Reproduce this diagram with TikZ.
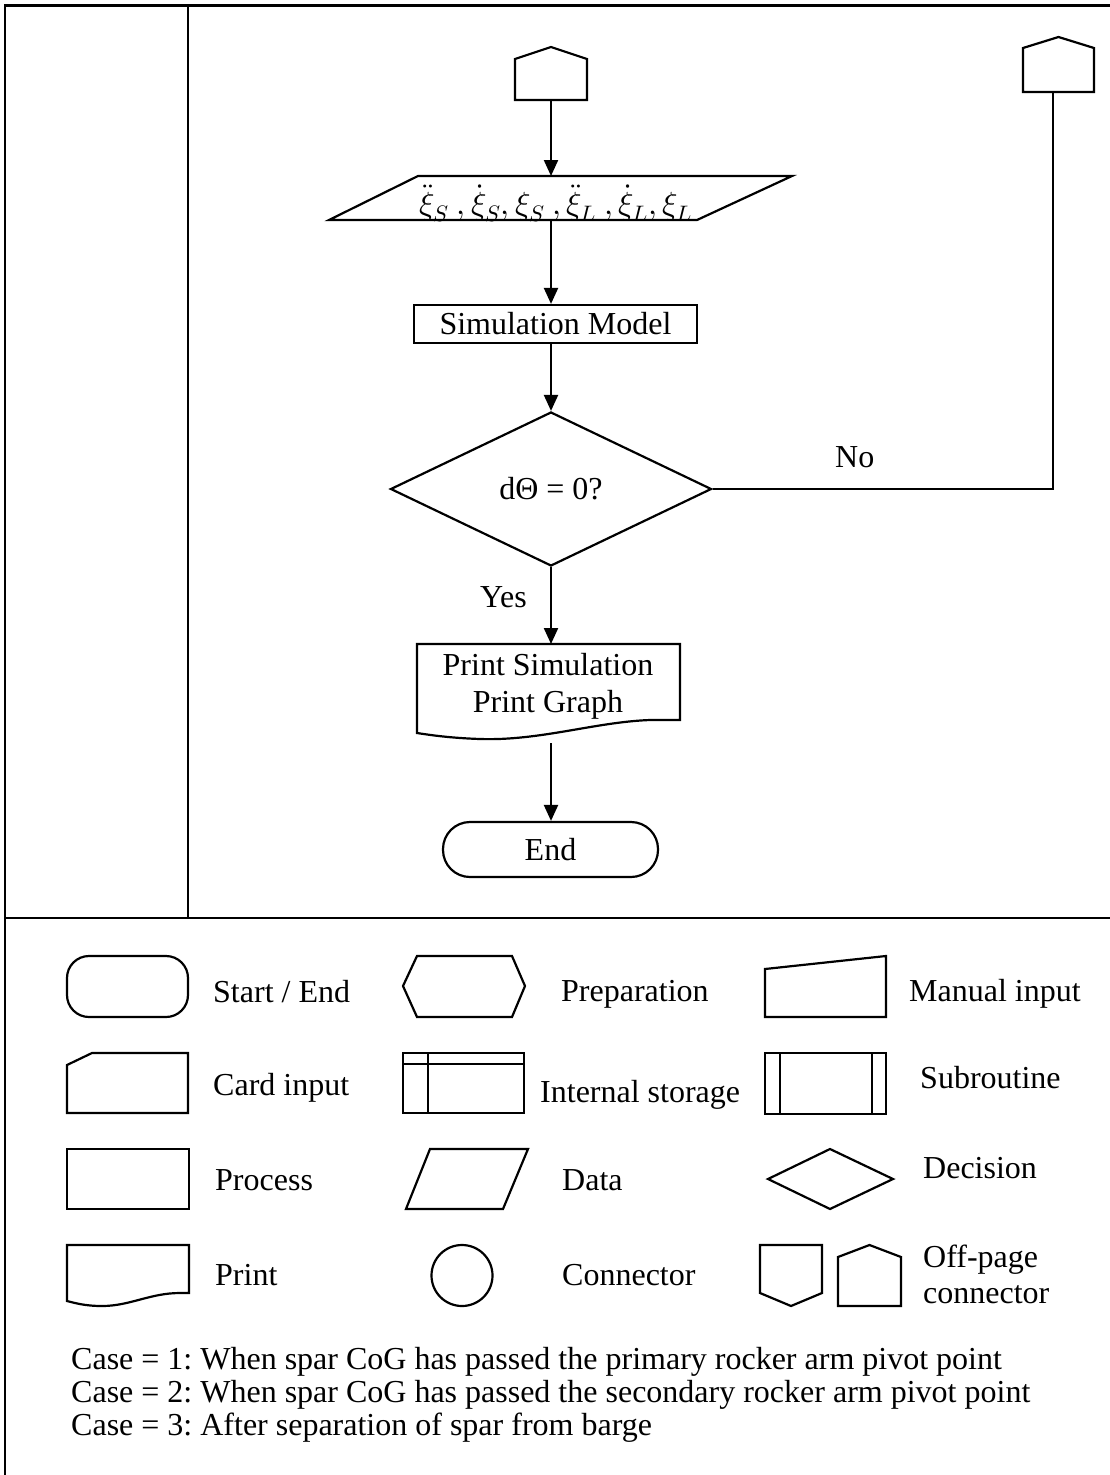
\documentclass[tikz,border=0pt]{standalone}
\usepackage{fontspec}
\usepackage{unicode-math}
\setmainfont{Liberation Serif}
\setmathfont{Latin Modern Math}
\usetikzlibrary{arrows.meta,shapes.geometric}
\frenchspacing
\tikzset{
  fs/.style={font=\fontsize{32}{38}\selectfont\frenchspacing},
  shp/.style={draw, line width=2.2pt, line join=miter},
  lbl/.style={fs, inner sep=0pt, anchor=base west},
  ctr/.style={fs, inner sep=0pt, anchor=base},
  flow/.style={line width=2.2pt, -{Triangle[length=16pt,width=14pt]}},
  conn/.style={line width=2.2pt},
  frame/.style={line width=2.5pt},
}
\begin{document}
\begin{tikzpicture}[x=1pt,y=-1pt]
\useasboundingbox (0,0) rectangle (1110,1475);

% frame
\draw[frame] (4,5.5) -- (1110,5.5);
\draw[frame] (5,4.5) -- (5,1475);
\draw[frame] (5,918) -- (1110,918);
\draw[frame] (188,5.5) -- (188,918);

% off-page connectors (top)
\draw[shp] (515,100) -- (515,59) -- (551,47) -- (587,59) -- (587,100) -- cycle;
\coordinate (off1) at (551,100);
\draw[shp] (1023,92) -- (1023,48) -- (1058.5,37) -- (1094,48) -- (1094,92) -- cycle;
\coordinate (off2) at (1053,92);

% data (parallelogram)
\draw[shp] (329,220) -- (418,176) -- (792,176) -- (697,220) -- cycle;
\node[ctr] (data) at (556,214) {$\ddot{\xi}_S\ ,\dot{\xi}_S,\xi_S\ ,\ddot{\xi}_L\ ,\dot{\xi}_L,\xi_L$};
\coordinate (dataT) at (551,176);
\coordinate (dataB) at (551,220);

% process
\node[shp, fs, minimum width=283pt, minimum height=38pt, inner sep=0pt] (sim) at (555.5,324) {Simulation Model};

% decision
\node[shp, fs, diamond, minimum width=321pt, minimum height=154pt, aspect=2.08, inner sep=0pt] (dec) at (551,489) {dΘ = 0?};

% print
\draw[shp] (417,644) -- (680,644) -- (680,720) -- (650,720)
  .. controls (595,722) and (540,741) .. (480,739)
  .. controls (450,738) and (430,735) .. (417,733) -- cycle;
\node[ctr] (prt1) at (548,675) {Print Simulation};
\node[ctr] (prt2) at (548,712) {Print Graph};
\coordinate (prtT) at (551,644);
\coordinate (prtout) at (551,743);

% end
\node[shp, fs, rounded corners=27pt, minimum width=215pt, minimum height=55pt, inner sep=0pt] (end) at (550.5,849.5) {End};

% connectors
\draw[flow] (off1) -- (dataT);
\draw[flow] (dataB) -- (sim.north -| dataB);
\draw[flow] (sim.south -| dec.north) -- (dec.north);
\draw[flow] (dec.south) -- (prtT);
\draw[flow] (prtout) -- (prtout |- end.north);
\coordinate (nocorner) at (1053,489);
\draw[conn] (dec.east) -- (nocorner) -- (off2);
\node[lbl] (no) at (835,467) {No};
\node[lbl] (yes) at (480,607) {Yes};

% ---- legend ----
\draw[shp, rounded corners=22pt] (67,956) rectangle (188,1017);
\node[lbl] (l1) at (213,1002) {Start / End};
\draw[shp] (403,986) -- (417,956) -- (512,956) -- (525,986) -- (512,1017) -- (417,1017) -- cycle;
\node[lbl] (l2) at (561,1001) {Preparation};
\draw[shp] (765,969) -- (886,956) -- (886,1017) -- (765,1017) -- cycle;
\node[lbl] (l3) at (909,1001) {Manual input};

\draw[shp] (67,1065) -- (92,1053) -- (188,1053) -- (188,1113) -- (67,1113) -- cycle;
\node[lbl] (l4) at (213,1095) {Card input};
\draw[shp] (403,1053) rectangle (524,1113);
\draw[shp] (403,1064) -- (524,1064);
\draw[shp] (428,1053) -- (428,1113);
\node[lbl] (l5) at (540,1102) {Internal storage};
\draw[shp] (765,1053) rectangle (886,1114);
\draw[shp] (780,1053) -- (780,1114);
\draw[shp] (872,1053) -- (872,1114);
\node[lbl] (l6) at (920,1088) {Subroutine};

\draw[shp] (67,1149) rectangle (189,1209);
\node[lbl] (l7) at (215,1190) {Process};
\draw[shp] (406,1209) -- (430,1149) -- (528,1149) -- (503,1209) -- cycle;
\node[lbl] (l8) at (562,1190) {Data};
\draw[shp] (768,1179) -- (830,1149) -- (893,1179) -- (830,1209) -- cycle;
\node[lbl] (l9) at (923,1178) {Decision};

\draw[shp] (67,1245) -- (189,1245) -- (189,1293) -- (180,1293)
  .. controls (150,1293) and (130,1306) .. (102,1306)
  .. controls (85,1306) and (75,1303) .. (67,1301) -- cycle;
\node[lbl] (l10) at (215,1285) {Print};
\draw[shp] (462,1275.5) circle (30.5);
\node[lbl] (l11) at (562,1285) {Connector};
\draw[shp] (760,1245) -- (822,1245) -- (822,1293) -- (791,1306) -- (760,1293) -- cycle;
\draw[shp] (838,1306) -- (838,1257) -- (869.5,1245) -- (901,1257) -- (901,1306) -- cycle;
\node[lbl] (l12) at (923,1267) {Off-page};
\node[lbl] (l13) at (923,1303) {connector};

\node[lbl] (c1) at (71,1369) {Case = 1: When spar CoG has passed the primary rocker arm pivot point};
\node[lbl] (c2) at (71,1402) {Case = 2: When spar CoG has passed the secondary rocker arm pivot point};
\node[lbl] (c3) at (71,1435) {Case = 3: After separation of spar from barge};
\end{tikzpicture}
\end{document}
